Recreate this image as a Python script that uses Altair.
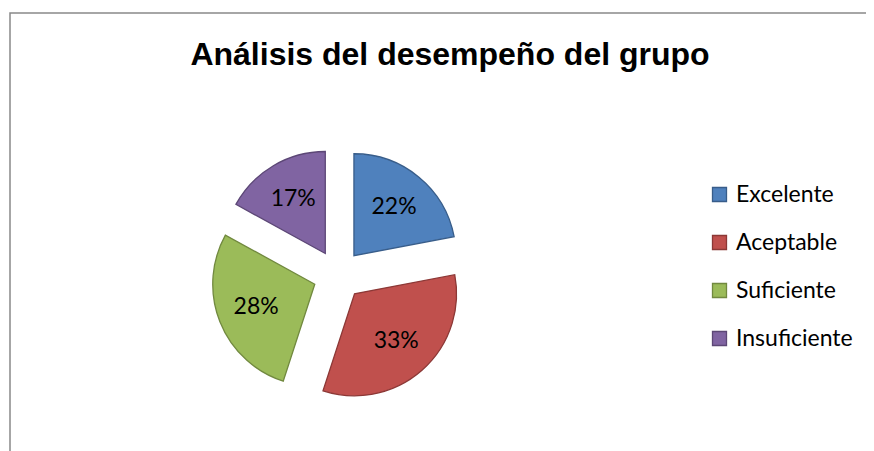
import altair as alt
import pandas as pd

TITULO = "Análisis del desempeño del grupo"
categorias = ["Excelente", "Aceptable", "Suficiente", "Insuficiente"]
porcentajes = [22, 33, 28, 17]
rellenos = ["#4F81BD", "#C0504D", "#9BBB59", "#8064A2"]
bordes = ["#385D8A", "#8C3836", "#71893F", "#5C4776"]

CX, CY = 330, 267      # pie centre (px)
R = 102                # radius (px)
EXPLODE = 25           # slice offset (px)
LABEL_R = 88           # label distance from centre (px)

df = pd.DataFrame({"categoria": categorias, "valor": porcentajes,
                   "orden": list(range(len(categorias)))})
df["etiqueta"] = [f"{v}%" for v in porcentajes]

base = (
    alt.Chart(df)
    .transform_window(cum="sum(valor)", sort=[alt.SortField("orden")])
    .transform_joinaggregate(total="sum(valor)")
    .transform_calculate(t0="(datum.cum - datum.valor) / datum.total * 2 * PI")
    .transform_calculate(t1="datum.cum / datum.total * 2 * PI")
    .transform_calculate(mid="(datum.t0 + datum.t1) / 2")
    .transform_calculate(cx=f"{CX} + {EXPLODE} * sin(datum.mid)")
    .transform_calculate(cy=f"{CY} - {EXPLODE} * cos(datum.mid)")
    .transform_calculate(lx=f"{CX} + {LABEL_R} * sin(datum.mid)")
    .transform_calculate(ly=f"{CY} - {LABEL_R} * cos(datum.mid)")
)

color_scale = alt.Scale(domain=categorias, range=rellenos)
stroke_scale = alt.Scale(domain=categorias, range=bordes)

arcs = base.mark_arc(radius=R, strokeWidth=1.3).encode(
    theta=alt.Theta("t0:Q", scale=None),
    theta2="t1:Q",
    x=alt.X("cx:Q", scale=None),
    y=alt.Y("cy:Q", scale=None),
    color=alt.Color("categoria:N", scale=color_scale,
                    legend=alt.Legend(title=None)),
    stroke=alt.Stroke("categoria:N", scale=stroke_scale,
                      legend=alt.Legend(title=None)),
)

labels = base.mark_text(font="Lato", fontSize=23, color="black",
                        align="center", baseline="middle").encode(
    x=alt.X("lx:Q", scale=None),
    y=alt.Y("ly:Q", scale=None),
    text="etiqueta:N",
)

title = alt.Chart(pd.DataFrame({"t": [TITULO]})).mark_text(
    font="Liberation Sans", fontWeight="bold", fontSize=32, color="black",
    align="center", baseline="alphabetic",
).encode(x=alt.value(442), y=alt.value(57), text="t:N")

frame = alt.Chart(pd.DataFrame({"t": [0]})).mark_rect(
    fill="white", stroke="#898989", strokeWidth=1.5,
).encode(x=alt.value(2), x2=alt.value(1000), y=alt.value(5), y2=alt.value(1000))

chart = (
    alt.layer(frame, arcs, labels, title)
    .properties(width=858, height=443, padding=0,
                autosize=alt.AutoSizeParams(type="none"), background="white")
    .configure_view(stroke=None)
    .configure_legend(
        orient="none", legendX=700, legendY=175,
        symbolType="square", symbolSize=196, symbolStrokeWidth=1.3,
        labelFont="Lato", labelFontSize=23, labelColor="black",
        labelOffset=5, rowPadding=24, padding=0,
    )
)

chart.save("out.html", embed_options={"renderer": "svg", "actions": False})
